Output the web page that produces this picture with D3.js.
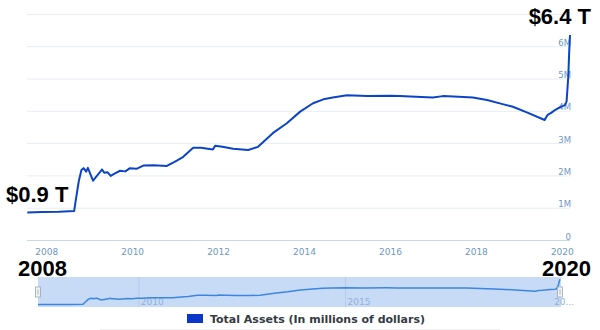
<!DOCTYPE html>
<html><head><meta charset="utf-8">
<script src="https://cdn.jsdelivr.net/npm/d3@7/dist/d3.min.js"></script>
<style>
html,body{margin:0;padding:0;background:#fff;}
svg{display:block;}
</style>
</head><body>
<svg id="chart" width="600" height="330"></svg>
<script>
// Fed total assets, trillions of dollars (axis shows "M" = millions of millions)
const dates = [2007.56, 2007.9, 2008.3, 2008.65, 2008.70, 2008.76, 2008.82, 2008.87, 2008.93, 2008.97,
  2009.03, 2009.09, 2009.16, 2009.26, 2009.30, 2009.35, 2009.43, 2009.50, 2009.60, 2009.72,
  2009.84, 2009.95, 2010.1, 2010.26, 2010.5, 2010.81, 2011.04, 2011.19, 2011.42, 2011.6, 2011.88, 2011.93,
  2012.1, 2012.35, 2012.70, 2012.93, 2013.28, 2013.60, 2013.91, 2014.21, 2014.45, 2014.67,
  2015.0, 2015.47, 2016.0, 2016.23, 2016.6, 2017.0, 2017.23, 2017.6, 2017.93, 2018.26,
  2018.6, 2018.86, 2019.2, 2019.60, 2019.67, 2019.76, 2019.84, 2019.95, 2020.07, 2020.11,
  2020.15, 2020.17, 2020.19];
const totalAssets = [0.87, 0.88, 0.89, 0.91, 1.35, 1.85, 2.18, 2.24, 2.13, 2.25,
  2.05, 1.85, 1.97, 2.13, 2.20, 2.10, 2.11, 2.00, 2.08, 2.16,
  2.14, 2.24, 2.22, 2.32, 2.33, 2.31, 2.47, 2.59, 2.87, 2.87, 2.82, 2.93,
  2.90, 2.84, 2.80, 2.90, 3.33, 3.63, 3.99, 4.25, 4.37, 4.43,
  4.50, 4.47, 4.48, 4.47, 4.45, 4.43, 4.47, 4.45, 4.43, 4.35,
  4.23, 4.14, 3.96, 3.73, 3.89, 3.96, 4.04, 4.12, 4.19, 4.30,
  5.07, 5.80, 6.36];
const xTicks = [2008, 2010, 2012, 2014, 2016, 2018, 2020];
const yTicks = [0, 1, 2, 3, 4, 5, 6];
const yGrid = [0, 1, 2, 3, 4, 5, 6, 7];
const navTicks = [2010, 2015, 2020];
const navTickLabels = ["2010", "2015", "20..."];
const legendLabel = "Total Assets (In millions of dollars)";
const annotations = [
  {text: "$0.9 T", anchor: "start", x: 6, y: 202},
  {text: "$6.4 T", anchor: "end", x: 591, y: 24},
  {text: "2008", anchor: "start", x: 18, y: 276},
  {text: "2020", anchor: "end", x: 591, y: 276}
];

const data = dates.map((d, i) => ({t: d, v: totalAssets[i]}));
const svg = d3.select("#chart");
const font = "'DejaVu Sans', Verdana, sans-serif";
const labelColor = "#6e98c2";

const x = d3.scaleLinear().domain([d3.min(dates), d3.max(dates)]).range([27.3, 570]);
const y = d3.scaleLinear().domain([0, 7]).range([240.5, 14.4]);

// gridlines
svg.append("g").selectAll("line").data(yGrid.slice(1)).join("line")
  .attr("x1", 27).attr("x2", 570)
  .attr("y1", d => y(d)).attr("y2", d => y(d))
  .attr("stroke", "#e6edf6").attr("stroke-width", 1);

// x axis
const xAxis = svg.append("g").attr("transform", `translate(0,${y(0)})`)
  .call(d3.axisBottom(x).tickValues(xTicks).tickFormat(d3.format("d")).tickSize(0).tickPadding(8));
xAxis.select(".domain").attr("stroke", "#c8d7ea").attr("d", `M27,0H570`);
xAxis.selectAll("text").attr("font-family", font).attr("font-size", 9).attr("fill", labelColor);

// y axis labels (inside, right aligned, sitting on gridlines)
const yAxis = svg.append("g").attr("transform", "translate(571,0)")
  .call(d3.axisLeft(y).tickValues(yTicks).tickFormat(d => d === 0 ? "0" : d + "M").tickSize(0).tickPadding(0));
yAxis.select(".domain").remove();
yAxis.selectAll("text").attr("font-family", font).attr("font-size", 8.5)
  .attr("fill", labelColor).attr("dy", "-1.5");

// main line
const line = d3.line().x(d => x(d.t)).y(d => y(d.v));
svg.append("path").datum(data).attr("d", line)
  .attr("fill", "none").attr("stroke", "#0c44c6").attr("stroke-width", 2)
  .attr("stroke-linejoin", "round");

// navigator
const nx = d3.scaleLinear().domain([d3.min(dates), d3.max(dates)]).range([38, 560]);
const ny = d3.scaleLinear().domain([0, 6.4]).range([308.5, 279]);
svg.append("rect").attr("x", 38).attr("y", 277).attr("width", 523).attr("height", 30)
  .attr("fill", "#c7dbf6");
svg.append("g").selectAll("line").data(navTicks.slice(0, 2)).join("line")
  .attr("x1", d => nx(d)).attr("x2", d => nx(d)).attr("y1", 277).attr("y2", 307)
  .attr("stroke", "#b4cbe9").attr("stroke-width", 1);
svg.append("g").selectAll("text").data(navTicks).join("text")
  .attr("x", d => nx(d) + 2).attr("y", 304.5)
  .attr("font-family", font).attr("font-size", 9).attr("fill", "#8eb1dc")
  .text((d, i) => navTickLabels[i]);
const navLine = d3.line().x(d => nx(d.t)).y(d => ny(d.v));
svg.append("path").datum(data).attr("d", navLine)
  .attr("fill", "none").attr("stroke", "#3d86e0").attr("stroke-width", 1.5);
// handles
[38, 560].forEach(hx => {
  const g = svg.append("g").attr("transform", `translate(${hx},287)`);
  g.append("rect").attr("x", -2.5).attr("y", 0).attr("width", 5).attr("height", 10)
    .attr("fill", "#f2f2f2").attr("stroke", "#9aa7b8").attr("stroke-width", 0.8);
  g.append("line").attr("x1", 0).attr("x2", 0).attr("y1", 2.5).attr("y2", 7.5)
    .attr("stroke", "#9aa7b8").attr("stroke-width", 0.8);
});

// legend
svg.append("rect").attr("x", 187).attr("y", 314).attr("width", 16).attr("height", 9)
  .attr("fill", "#0a37c8");
svg.append("text").attr("x", 210).attr("y", 323)
  .attr("font-family", font).attr("font-size", 11).attr("font-weight", "bold")
  .attr("fill", "#333a44").attr("textLength", 215).attr("lengthAdjust", "spacingAndGlyphs")
  .text(legendLabel);
svg.append("line").attr("x1", 100).attr("x2", 500).attr("y1", 329.5).attr("y2", 329.5)
  .attr("stroke", "#f0f0f0");

// annotations
annotations.forEach(a => {
  svg.append("text").attr("x", a.x).attr("y", a.y)
    .attr("text-anchor", a.anchor)
    .attr("font-family", "'Liberation Sans', Arial, sans-serif")
    .attr("font-size", 22).attr("font-weight", "bold").attr("fill", "#000")
    .text(a.text);
});
</script>
</body></html>
